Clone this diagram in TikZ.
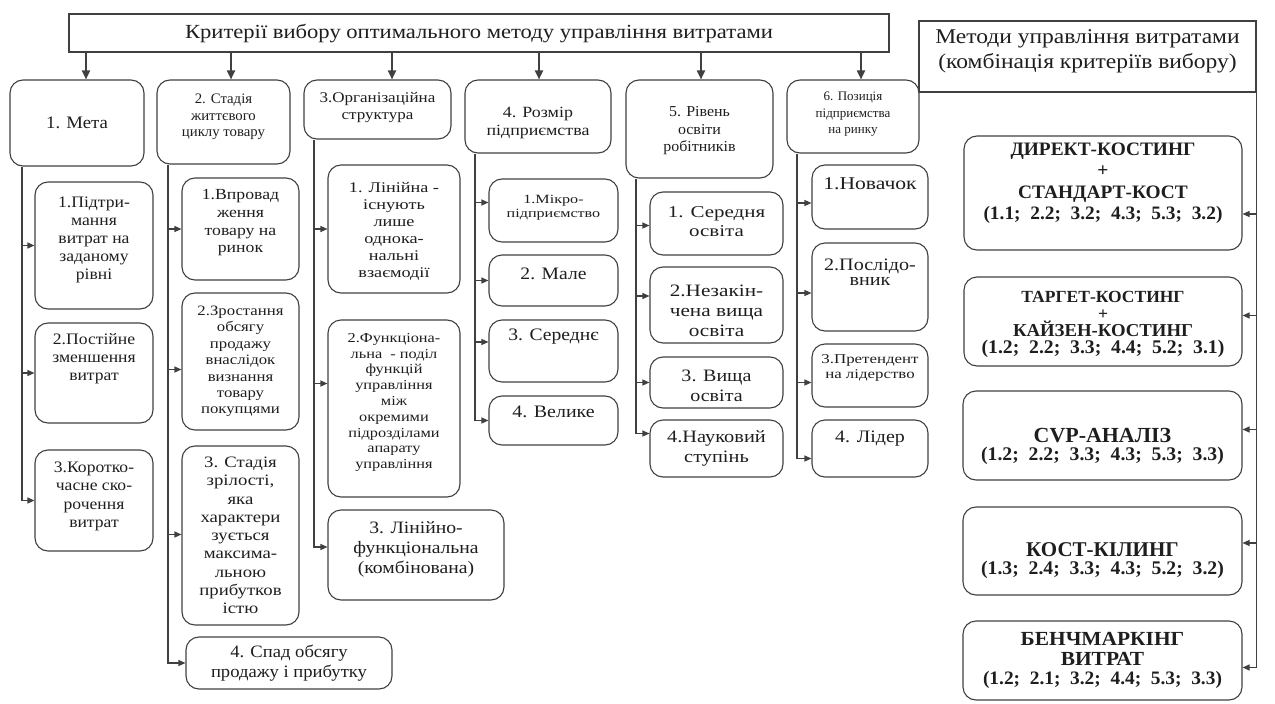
\documentclass[tikz,border=0pt]{standalone}
\usepackage{fontspec}
\setmainfont{Liberation Serif}
\usetikzlibrary{arrows.meta,calc}
\definecolor{linec}{HTML}{404040}
\definecolor{txtc}{HTML}{1E1E1E}
\newcommand\fx[3]{\fontsize{#1}{#2}\selectfont\addfontfeatures{FakeStretch=#3}}
\newcommand\mybox[8]{%
  \node[bx,#6,minimum width={(#4-#2)*1pt},minimum height={(#5-#3)*1pt}] (#1) at ({(#2+#4)/2},{(#3+#5)/2}) {};
  \node[txt,#6] (#1t) at ({(#2+#4)/2},{(#3+#5)/2+#7}) {#8};}
\newcommand\feed[3]{%
  \coordinate (#1e) at ($(#1.west)+(0,#3)$);
  \draw[arr] (#2 |- #1e) -- (#1e);}
\newcommand\mfeed[2]{%
  \coordinate (#1e) at ($(#1.east)+(0,#2)$);
  \draw[arr] (mt |- #1e) -- (#1e);}
\tikzset{
  bx/.style={draw=linec,line width=1.1pt,rounded corners=13pt,inner sep=0pt},
  txt/.style={align=center,inner sep=0pt,text=txtc},
  ln/.style={draw=linec,line width=1.1pt},
  arr/.style={ln,-{Triangle[length=7pt,width=6pt]}},
  bigarr/.style={draw=linec,line width=1.8pt,-{Triangle[length=9pt,width=8pt]}},
}
\begin{document}
\begin{tikzpicture}[x=1pt,y=-1pt]
\useasboundingbox (0,0) rectangle (1275,704);
% title boxes
\mybox{top}{69}{14}{889}{52}{sharp corners,font=\fx{20}{22}{1.13}}{0}{Критерії вибору оптимального методу управління витратами}
\mybox{meth}{919}{21}{1256}{92}{sharp corners,font=\fx{21}{25}{1.12}}{-5}{Методи управління витратами\\(комбінація критеріїв вибору)}
% headers
\mybox{h1}{10}{80}{144}{166}{font=\fx{17.5}{18}{1.07}}{0}{1. Мета}
\mybox{h2}{157}{80}{290}{164}{font=\fx{14.5}{16.5}{1.02}}{-5}{2. Стадія\\життєвого\\циклу товару}
\mybox{h3}{304}{80}{451}{139}{font=\fx{14.8}{17}{1.15}}{-2}{3.Організаційна\\структура}
\mybox{h4}{465}{80}{611}{153}{font=\fx{15.6}{18}{1.15}}{6}{4. Розмір\\підприємства}
\mybox{h5}{626}{80}{773}{178}{font=\fx{15.2}{17.5}{1.05}}{2}{5. Рівень\\освіти\\робітників}
\mybox{h6}{787}{80}{919}{153}{font=\fx{13}{16.5}{1}}{-2}{6. Позиція\\підприємства\\на ринку}
% column 1
\mybox{b11}{35}{182}{153}{309}{font=\fx{16}{18}{1.1}}{-6}{1.Підтри-\\мання\\витрат на\\заданому\\рівні}
\mybox{b12}{35}{323}{153}{423}{font=\fx{16}{18}{1.1}}{-14}{2.Постійне\\зменшення\\витрат}
\mybox{b13}{35}{450}{153}{551}{font=\fx{16}{18.5}{1.1}}{-4}{3.Коротко-\\часне ско-\\рочення\\витрат}
% column 2
\mybox{b21}{182}{178}{299}{280}{font=\fx{15.4}{17.7}{1.15}}{-6}{1.Впровад\\ження\\товару на\\ринок}
\mybox{b22}{182}{293}{299}{430}{font=\fx{14.3}{16.4}{1.17}}{0}{2.Зростання\\обсягу\\продажу\\внаслідок\\визнання\\товару\\покупцями}
\mybox{b23}{182}{446}{299}{625}{font=\fx{15.9}{18.3}{1.18}}{0}{3. Стадія\\зрілості,\\яка\\характери\\зується\\максима-\\льною\\прибутков\\істю}
\mybox{b24}{186}{637}{392}{689}{font=\fx{17.4}{20}{1.07}}{0}{4. Спад обсягу\\продажу і прибутку}
% column 3
\mybox{b31}{328}{165}{460}{293}{font=\fx{14.8}{17}{1.23}}{2}{1. Лінійна -\\існують\\лише\\однока-\\нальні\\взаємодії}
\mybox{b32}{328}{320}{460}{497}{font=\fx{13.7}{15.8}{1.19}}{-6}{2.Функціона-\\льна~ - поділ\\функцій\\управління\\між\\окремими\\підрозділами\\апарату\\управління}
\mybox{b33}{328}{510}{504}{600}{font=\fx{17.4}{20}{1.13}}{-6}{3. Лінійно-\\функціональна\\(комбінована)}
% column 4
\mybox{b41}{489}{179}{618}{242}{font=\fx{12.6}{14.3}{1.28}}{-3}{1.Мікро-\\підприємство}
\mybox{b42}{489}{255}{618}{306}{font=\fx{17.5}{20}{1.12}}{-7}{2. Мале}
\mybox{b43}{489}{320}{618}{382}{font=\fx{17.5}{20}{1.12}}{-14}{3. Середнє}
\mybox{b44}{489}{396}{618}{445}{font=\fx{17.5}{20}{1.14}}{-9}{4. Велике}
% column 5
\mybox{b51}{650}{192}{783}{255}{font=\fx{16.5}{18.3}{1.27}}{-2}{1. Середня\\освіта}
\mybox{b52}{650}{267}{783}{343}{font=\fx{17.4}{20}{1.22}}{6}{2.Незакін-\\чена вища\\освіта}
\mybox{b53}{650}{357}{783}{408}{font=\fx{17.4}{20}{1.15}}{3}{3. Вища\\освіта}
\mybox{b54}{650}{420}{783}{477}{font=\fx{17.4}{20}{1.17}}{0}{4.Науковий\\ступінь}
% column 6
\mybox{b61}{812}{165}{928}{229}{font=\fx{18}{19}{1.2}}{-13}{1.Новачок}
\mybox{b62}{812}{243}{928}{331}{font=\fx{17.5}{15}{1.15}}{-15}{2.Послідо-\\вник}
\mybox{b63}{812}{344}{928}{407}{font=\fx{13.5}{15}{1.25}}{-8}{3.Претендент\\на лідерство}
\mybox{b64}{812}{420}{928}{477}{font=\fx{17.5}{19}{1.14}}{-10}{4. Лідер}
% methods
\mybox{mA}{964}{136}{1242}{250}{font=\bfseries\fx{19}{21.5}{1.02}}{-10}{ДИРЕКТ-КОСТИНГ\\+\\СТАНДАРТ-КОСТ\\(1.1;\ \ 2.2;\ \ 3.2;\ \ 4.3;\ \ 5.3;\ \ 3.2)}
\mybox{mB}{964}{277}{1242}{366}{font=\bfseries\fx{17}{17}{1.03}}{3}{ТАРГЕТ-КОСТИНГ\\+\\{\fx{18.2}{17}{1.03}КАЙЗЕН-КОСТИНГ}\\{\fx{19.3}{17}{1.02}(1.2;\ \ 2.2;\ \ 3.3;\ \ 4.4;\ \ 5.2;\ \ 3.1)}}
\mybox{mC}{963}{391}{1242}{480}{font=\bfseries\fx{19.3}{18}{1.02}}{11}{{\fx{21.5}{18}{1.02}CVP-АНАЛІЗ}\\(1.2;\ \ 2.2;\ \ 3.3;\ \ 4.3;\ \ 5.3;\ \ 3.3)}
\mybox{mD}{963}{507}{1242}{595}{font=\bfseries\fx{19.3}{18}{1.02}}{10}{{\fx{21}{18}{1}КОСТ-КІЛИНГ}\\(1.3;\ \ 2.4;\ \ 3.3;\ \ 4.3;\ \ 5.2;\ \ 3.2)}
\mybox{mE}{963}{621}{1242}{700}{font=\bfseries\fx{19}{19.5}{1.02}}{0}{{\fx{20}{19.5}{1.07}БЕНЧМАРКІНГ}\\{\fx{20}{19.5}{1.07}ВИТРАТ}\\(1.2;\ \ 2.1;\ \ 3.2;\ \ 4.4;\ \ 5.3;\ \ 3.3)}
% top arrows
\coordinate (a1) at (86,0);
\coordinate (a2) at (231,0);
\coordinate (a3) at (392,0);
\coordinate (a4) at (539,0);
\coordinate (a5) at (701,0);
\coordinate (a6) at (861,0);
\foreach \i in {1,...,6}{\draw[bigarr] (top.south -| a\i) -- (h\i.north -| a\i);}
% trunks
\coordinate (t1) at (22,0);
\coordinate (t2) at (168,0);
\coordinate (t3) at (314,0);
\coordinate (t4) at (475,0);
\coordinate (t5) at (636,0);
\coordinate (t6) at (797,0);
% column 1
\feed{b11}{t1}{0}
\feed{b12}{t1}{0}
\coordinate (b13e) at ($(b13.west)+(0,0)$);
\draw[arr] (h1.south -| t1) |- (b13e);
% column 2
\feed{b21}{t2}{0}
\feed{b22}{t2}{8}
\feed{b23}{t2}{-1}
\coordinate (b24e) at ($(b24.west)+(0,0)$);
\draw[arr] (h2.south -| t2) |- (b24e);
% column 3
\feed{b31}{t3}{0}
\feed{b32}{t3}{-25}
\coordinate (b33e) at ($(b33.west)+(0,-8)$);
\draw[arr] (h3.south -| t3) |- (b33e);
% column 4
\feed{b41}{t4}{-8}
\feed{b42}{t4}{0}
\feed{b43}{t4}{-9}
\coordinate (b44e) at ($(b44.west)+(0,0)$);
\draw[arr] (h4.south -| t4) |- (b44e);
% column 5
\feed{b51}{t5}{2}
\feed{b52}{t5}{-9}
\feed{b53}{t5}{0}
\coordinate (b54e) at ($(b54.west)+(0,-15)$);
\draw[arr] (h5.south -| t5) |- (b54e);
% column 6
\feed{b61}{t6}{6}
\feed{b62}{t6}{6}
\feed{b63}{t6}{7}
\coordinate (b64e) at ($(b64.west)+(0,10)$);
\draw[arr] (h6.south -| t6) |- (b64e);
% methods trunk
\coordinate (mt) at (meth.south east);
\mfeed{mA}{21}
\mfeed{mB}{-6}
\mfeed{mC}{-6}
\mfeed{mD}{-8}
\coordinate (mEe) at ($(mE.east)+(0,7)$);
\draw[arr] (mt) |- (mEe);
\end{tikzpicture}
\end{document}
